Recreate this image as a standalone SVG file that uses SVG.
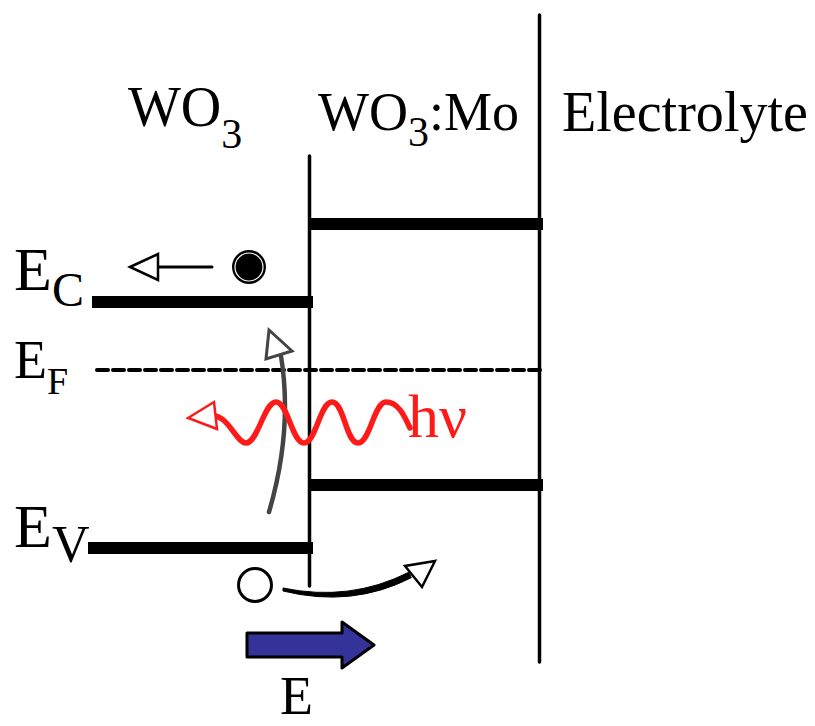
<svg xmlns="http://www.w3.org/2000/svg" width="815" height="726" viewBox="0 0 815 726">
<style>
.t{font-family:"Liberation Serif","Times New Roman",serif;fill:#000}
.band{stroke:#000;stroke-width:12;fill:none}
.wall{stroke:#000;stroke-width:3.5;stroke-linecap:round;fill:none}
.hollow{fill:#fff;stroke:#000;stroke-width:2.5;stroke-linejoin:miter}
</style>
<rect width="815" height="726" fill="#fff"/>
<g id="labels">
<text class="t" x="128" y="126" font-size="56">WO<tspan font-size="42" dy="22">3</tspan></text>
<text class="t" x="318" y="130" font-size="54">WO<tspan font-size="42" dy="16">3</tspan><tspan dy="-16">:Mo</tspan></text>
<text class="t" x="562" y="131" font-size="56" textLength="246" lengthAdjust="spacingAndGlyphs">Electrolyte</text>
<text class="t" x="14" y="290" font-size="62">E<tspan font-size="48" dy="16">C</tspan></text>
<text class="t" x="14" y="378" font-size="54">E<tspan font-size="38" dy="16">F</tspan></text>
<text class="t" x="14" y="547" font-size="62">E<tspan font-size="52" dy="15">V</tspan></text>
<text class="t" x="280" y="714" font-size="54">E</text>
<text x="408" y="437" font-size="62" font-family="Liberation Serif,serif" fill="#ff1a1a">hν</text>
</g>
<g id="walls">
<line class="wall" x1="309.5" y1="156" x2="309.5" y2="586"/>
<line class="wall" x1="539.5" y1="15" x2="539.5" y2="662"/>
</g>
<g id="bands">
<line class="band" x1="92" y1="302" x2="313" y2="302"/>
<line class="band" x1="309" y1="224" x2="543" y2="224"/>
<line class="band" x1="309" y1="485" x2="543" y2="485"/>
<line class="band" x1="88" y1="548" x2="313" y2="548"/>
<line x1="97" y1="370" x2="540" y2="370" stroke="#000" stroke-width="4" stroke-dasharray="11 5" stroke-linecap="round"/>
</g>
<g id="electron">
<circle cx="249" cy="267" r="17" fill="#000"/>
<circle cx="249" cy="267" r="14" fill="none" stroke="#fff" stroke-width="1.2"/>
</g>
<g id="hole">
<circle cx="255" cy="585" r="16.5" fill="#fff" stroke="#000" stroke-width="3"/>
</g>
<g id="connectors">
<line x1="212" y1="267" x2="158" y2="267" stroke="#000" stroke-width="3" stroke-linecap="round"/>
<polygon class="hollow" points="130,267 158,254 158,280"/>
<path d="M269,512 Q293,430 281,356" fill="none" stroke="#444" stroke-width="4.5" stroke-linecap="round"/>
<polygon points="269,330 292,351 266,359" fill="#fff" stroke="#444" stroke-width="3"/>
<path d="M212,416 C228,414 236,443 246,443 C258,443 264,402 276,402 C288,402 292,443 304,443 C316,443 320,402 332,402 C344,402 346,443 358,443 C370,443 374,402 386,402 C398,402 404,415 410,428" fill="none" stroke="#ff1a1a" stroke-width="5.5" stroke-linecap="round"/>
<polygon points="188,418 214,402 217,429" fill="#fff" stroke="#ff1a1a" stroke-width="2.5"/>
<path d="M283,588 Q350,602 408.7,572.3 L411.3,577.7 Q352,608 283,591 Z" fill="#000" stroke="#000" stroke-width="1" stroke-linejoin="round"/>
<polygon class="hollow" points="435,561 405,566 422,587"/>
<polygon points="247,633 342,633 342,622 374,645 342,668 342,657 247,657" fill="#333399" stroke="#000" stroke-width="3" stroke-linejoin="round"/>
</g>
</svg>
